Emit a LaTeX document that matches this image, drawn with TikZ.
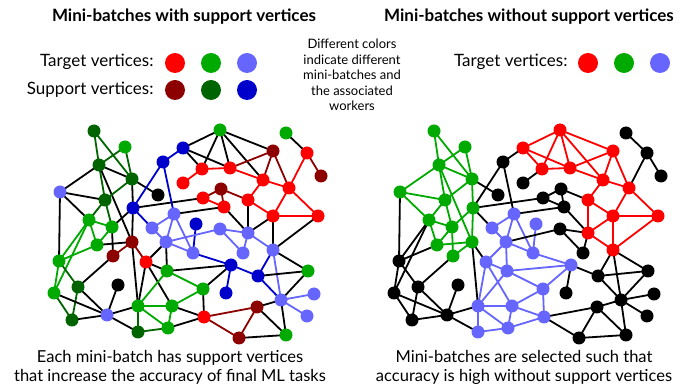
\documentclass[tikz,border=0pt]{standalone}
\usepackage{fontspec}
\setmainfont{Lato}
\usetikzlibrary{backgrounds}
\definecolor{cR}{RGB}{255,0,0}
\definecolor{cDR}{RGB}{140,0,0}
\definecolor{cG}{RGB}{0,170,0}
\definecolor{cDG}{RGB}{0,100,0}
\definecolor{cL}{RGB}{102,102,255}
\definecolor{cB}{RGB}{0,0,205}
\definecolor{cK}{RGB}{0,0,0}
\tikzset{
  vtx/.style={circle, inner sep=0pt, minimum size=13pt, fill=#1},
  legdot/.style={circle, inner sep=0pt, minimum size=20pt, fill=#1},
  edge/.style={line width=1.8pt, draw=#1},
  title/.style={font=\bfseries\fontsize{17}{20}\selectfont},
  legtext/.style={font=\fontsize{17}{20}\selectfont, anchor=east},
  note/.style={font=\fontsize{13}{15.5}\selectfont, align=center},
  caption/.style={font=\fontsize{16.5}{19}\selectfont, align=center}
}
\begin{document}
\begin{tikzpicture}[x=1pt,y=-1pt]
\useasboundingbox (0,0) rectangle (681,387);
% vertices: id/x/y/left colour/right colour
\foreach \i/\x/\y/\lc/\rc in {
1/94/131/DG/G, 2/125/147/G/G, 3/99/165/DG/G, 4/132/179/DG/G, 5/60/192/L/G,
6/158/195/K/K, 7/105/200/DG/G, 8/133/208/B/G, 9/89/220/G/G, 10/112/227/G/G,
11/152/228/L/L, 12/163/162/B/K, 13/183/148/B/R, 14/220/130/G/R, 15/286/133/G/K,
16/273/151/DR/R, 17/307/153/R/K, 18/202/169/R/R, 19/230/168/R/R, 20/321/176/DR/K,
21/183/183/R/K, 22/263/180/R/R, 23/289/188/R/R, 24/221/189/DR/K, 25/203/198/R/K,
26/224/207/R/K, 27/248/200/R/R, 28/273/216/R/R, 29/318/216/R/R, 30/174/214/L/L,
31/196/224/B/L, 32/220/229/L/K, 33/248/233/L/R, 34/97/245/G/G, 35/113/256/DR/G,
36/132/242/DR/G, 37/146/262/R/L, 38/59/261/G/K, 39/167/271/G/L, 40/166/242/L/L,
41/193/253/L/L, 42/78/287/DG/K, 43/118/285/K/K, 44/54/293/G/K, 45/138/306/G/L,
46/172/306/G/L, 47/107/315/L/K, 48/72/320/DG/K, 49/138/332/DG/L, 50/168/328/G/L,
51/203/289/G/L, 52/243/253/L/K, 53/273/250/L/R, 54/231/265/B/L, 55/258/276/B/K,
56/308/271/G/K, 57/226/293/B/K, 58/281/300/L/K, 59/314/294/L/K, 60/257/307/DR/K,
61/307/316/L/K, 62/204/317/R/L, 63/239/338/DR/K, 64/286/335/G/K}{
  \node[vtx=c\lc] (a\i) at (\x,\y) {};
  \node[vtx=c\rc] (b\i) at (\x+340,\y) {};
}
% edges: from/to/left colour/right colour
\begin{pgfonlayer}{background}
\foreach \p/\q/\lc/\rc in {
1/3/DG/G, 1/4/DG/G, 2/3/DG/G, 2/4/DG/G, 3/4/K/G, 3/5/K/G, 3/7/DG/G, 3/36/K/G,
4/6/K/K, 4/7/DG/G, 4/8/K/G, 5/7/K/G, 5/9/K/G, 5/38/K/K, 7/9/DG/G, 7/10/DG/G,
8/10/K/G, 8/11/B/K, 8/12/B/K, 8/25/K/K, 8/36/K/G, 12/13/B/K, 12/30/B/K,
13/14/K/R, 13/18/K/R, 13/19/K/R, 14/16/K/R, 14/18/K/R, 14/19/K/R, 14/22/K/R,
15/17/K/K, 16/19/DR/R, 16/22/DR/R, 16/23/DR/R, 17/20/DR/K, 17/23/R/K,
18/19/R/R, 18/21/R/K, 19/22/R/R, 22/23/R/R, 22/27/R/R, 23/28/R/R, 23/29/R/R,
28/29/R/R, 27/28/R/R, 24/25/DR/K, 24/26/DR/K, 24/27/DR/K, 25/26/R/K,
26/33/K/K, 27/33/K/R, 28/33/K/R, 28/53/K/R, 29/53/K/R,
11/30/L/L, 30/40/L/L, 30/41/L/L, 26/30/K/K, 31/41/B/L, 11/40/L/L, 40/41/L/L,
32/40/L/K, 32/52/L/K, 33/52/L/K, 32/33/L/K, 33/53/L/R, 53/58/L/K,
53/55/B/K, 53/56/K/K, 54/55/B/K, 54/57/B/K, 39/54/K/L, 51/54/K/L, 41/54/B/L,
55/56/K/K, 55/58/B/K, 56/58/K/K, 58/59/L/K, 58/61/L/K, 58/60/K/K, 58/64/K/K,
60/62/DR/K, 60/63/DR/K, 60/64/K/K, 63/64/K/K, 62/63/DR/K,
46/51/G/L, 39/51/G/L, 51/62/K/L, 46/62/K/L, 50/62/K/L,
9/10/G/G, 9/38/G/K, 9/44/G/K, 10/34/G/G, 9/34/G/G, 10/35/K/G,
34/38/G/K, 34/36/K/G, 35/36/DR/G, 36/37/DR/K,
37/40/K/L, 37/45/K/L, 37/46/K/L, 37/39/K/L, 39/40/K/L, 39/45/G/L,
38/44/G/K, 38/42/DG/K, 44/48/DG/K, 42/48/DG/K, 44/47/K/K, 42/47/K/K,
35/42/K/K, 43/47/K/K, 47/48/K/K, 45/47/K/K, 47/49/K/K,
45/49/DG/L, 45/46/G/L, 45/50/G/L, 46/50/G/L, 49/50/DG/L, 36/45/K/K}{
  \draw[edge=c\lc] (a\p.center) -- (a\q.center);
  \draw[edge=c\rc] (b\p.center) -- (b\q.center);
}
\end{pgfonlayer}
% titles
\node[title] (t1) at (184,17) {Mini-batches with support vertices};
\node[title] (t2) at (529,17) {Mini-batches without support vertices};
% legend left
\node[legtext] (lt) at (157,62) {Target vertices:};
\node[legtext] (ls) at (157,90) {Support vertices:};
\node[legdot=cR] (lt1) at (175,63) {};
\node[legdot=cG] (lt2) at (211,63) {};
\node[legdot=cL] (lt3) at (247,63) {};
\node[legdot=cDR] (ls1) at (175,90) {};
\node[legdot=cDG] (ls2) at (211,90) {};
\node[legdot=cB] (ls3) at (247,90) {};
% legend right
\node[legtext] (rt) at (571,62) {Target vertices:};
\node[legdot=cR] (rt1) at (588,63) {};
\node[legdot=cG] (rt2) at (624,63) {};
\node[legdot=cL] (rt3) at (660,63) {};
% note
\node[note] (nt) at (352,75) {Different colors\\indicate different\\mini-batches and\\the associated\\workers};
% captions
\node[caption] (c1) at (170,367) {Each mini-batch has support vertices\\that increase the accuracy of final ML tasks};
\node[caption] (c2) at (524,367) {Mini-batches are selected such that\\accuracy is high without support vertices};
\end{tikzpicture}
\end{document}
